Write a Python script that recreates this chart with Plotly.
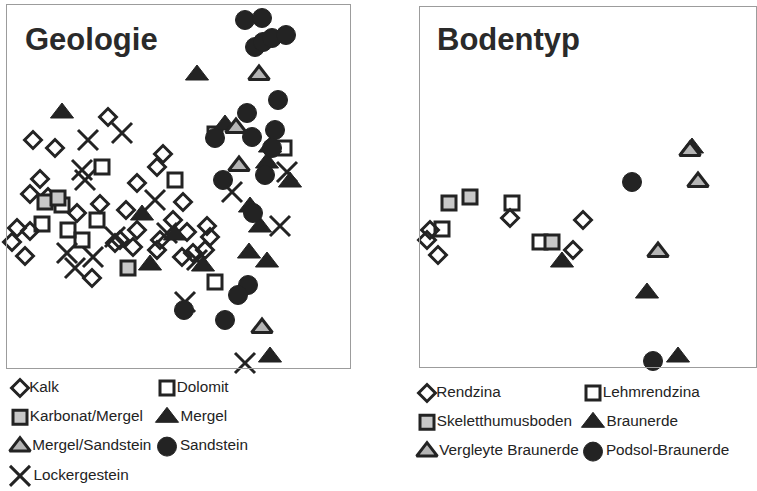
import plotly.graph_objects as go

W, H = 757, 491
INK = "#232323"
GREY = "#c8c8c8"
FONT = "Liberation Sans, Arial, sans-serif"

# ---------------- Left panel: Geologie (ordination scores, arbitrary units) -------------
geo_names = ["Kalk", "Dolomit", "Karbonat/Mergel", "Mergel",
             "Mergel/Sandstein", "Sandstein", "Lockergestein"]

kalk_x = [10.1, 2.6, 4.8, 3.3, 2.3, 15.6, 15.0, 13.0, 9.3, 11.9, 1.0, 2.3, 0.5, 1.8,
          13.0, 10.8, 8.5, 17.6, 16.6, 20.3, 19.8, 17.5, 15.0, 12.6, 4.1, 7.0, 11.3,
          15.3, 18.6, 18.0, 20.0]
kalk_y = [25.1, 22.8, 22.0, 18.9, 17.4, 21.4, 20.1, 18.5, 16.4, 15.8, 14.0, 13.7, 12.6, 11.2,
          13.8, 12.5, 9.0, 16.6, 14.8, 13.1, 11.8, 11.1, 11.8, 12.1, 17.1, 15.5, 12.8,
          12.8, 11.5, 13.6, 14.2]

dolomit_x = [9.5, 16.8, 3.5, 6.1, 7.5, 9.0, 20.8, 20.8, 27.7, 5.5]
dolomit_y = [20.1, 18.8, 14.4, 13.8, 12.8, 14.8, 8.6, 23.4, 22.0, 16.3]

karbonat_x = [12.1, 3.8, 5.1]
karbonat_y = [10.0, 16.6, 17.0]

locker_x = [8.1, 11.5, 7.5, 7.8, 14.8, 10.8, 6.0, 6.8, 8.6, 16.0, 19.0, 22.5, 27.3, 23.8,
            17.8, 28.0]
locker_y = [22.8, 23.5, 19.8, 18.8, 16.8, 13.1, 11.5, 10.0, 11.1, 13.5, 10.8, 17.6, 14.2, 0.5,
            6.6, 19.6]

mergel_x = [19.0, 5.5, 21.8, 26.3, 26.0, 28.3, 24.3, 25.3, 24.2, 26.0, 26.3, 13.5, 14.3,
            19.6, 16.8]
mergel_y = [29.3, 25.5, 24.3, 22.1, 20.5, 18.6, 16.1, 14.1, 11.5, 10.6, 1.1, 15.3, 10.3,
            10.2, 13.3]

mergsand_x = [25.2, 22.9, 23.2, 25.5]
mergsand_y = [29.3, 24.0, 20.2, 4.0]

sand_x = [23.8, 25.5, 24.8, 25.6, 26.5, 27.9, 27.1, 24.0, 20.8, 24.5, 26.8, 26.5, 25.8,
          21.6, 24.6, 24.1, 23.1, 21.8, 17.7]
sand_y = [34.8, 35.0, 32.1, 32.6, 33.0, 33.3, 26.8, 25.5, 23.0, 23.1, 23.8, 22.0, 19.3,
          18.8, 15.5, 8.3, 7.3, 4.8, 5.8]

# ---------------- Right panel: Bodentyp ----------------
soil_names = ["Rendzina", "Lehmrendzina", "Skeletthumusboden", "Braunerde",
              "Vergleyte Braunerde", "Podsol-Braunerde"]

rend_x = [1.0, 0.7, 1.8, 9.0, 16.3, 15.3]
rend_y = [13.7, 12.7, 11.2, 14.9, 14.7, 11.7]
lehm_x = [2.2, 9.2, 12.0]
lehm_y = [13.8, 16.4, 12.5]
skel_x = [2.9, 5.0, 13.2]
skel_y = [16.4, 17.0, 12.5]
braun_x = [14.2, 22.7, 25.8, 27.2]
braun_y = [10.5, 7.4, 1.0, 21.9]
vergl_x = [27.0, 27.8, 23.8]
vergl_y = [21.6, 18.5, 11.5]
podsol_x = [21.2, 23.3]
podsol_y = [18.5, 0.6]

# ---------------- marker styles ----------------
def st(symbol, size, color, lw, lc=INK):
    return dict(symbol=symbol, size=size, color=color, line=dict(width=lw, color=lc))

S_DIAMOND = st("diamond-open", 13, INK, 3)
S_OSQUARE = st("square-open", 14, INK, 3)
S_GSQUARE = st("square", 14, GREY, 3)
S_BTRI = st("triangle-up", 20, INK, 1)
S_GTRI = st("triangle-up", 18, "#b5b5b5", 3)
S_CIRCLE = st("circle", 19, INK, 1)
S_X = st("x-thin", 20, INK, 3)

geo_data = [
    ("Kalk", kalk_x, kalk_y, S_DIAMOND),
    ("Dolomit", dolomit_x, dolomit_y, S_OSQUARE),
    ("Karbonat/Mergel", karbonat_x, karbonat_y, S_GSQUARE),
    ("Lockergestein", locker_x, locker_y, S_X),
    ("Mergel", mergel_x, mergel_y, S_BTRI),
    ("Mergel/Sandstein", mergsand_x, mergsand_y, S_GTRI),
    ("Sandstein", sand_x, sand_y, S_CIRCLE),
]
geo_style = {n: s for n, _, _, s in geo_data}

soil_data = [
    ("Rendzina", rend_x, rend_y, S_DIAMOND),
    ("Lehmrendzina", lehm_x, lehm_y, S_OSQUARE),
    ("Skeletthumusboden", skel_x, skel_y, S_GSQUARE),
    ("Braunerde", braun_x, braun_y, S_BTRI),
    ("Vergleyte Braunerde", vergl_x, vergl_y, S_GTRI),
    ("Podsol-Braunerde", podsol_x, podsol_y, S_CIRCLE),
]
soil_style = {n: s for n, _, _, s in soil_data}

fig = go.Figure()

for name, xs, ys, s in geo_data:
    fig.add_trace(go.Scatter(x=xs, y=ys, mode="markers", name=name, marker=s,
                             xaxis="x", yaxis="y", cliponaxis=False, showlegend=False))
for name, xs, ys, s in soil_data:
    fig.add_trace(go.Scatter(x=xs, y=ys, mode="markers", name=name, marker=s,
                             xaxis="x2", yaxis="y2", cliponaxis=False, showlegend=False))

# ---------------- hand-drawn legends (two columns) ----------------
ROW = 29.3

def add_legend(names, styles, xa, ya, col0, col1, row0):
    for i, n in enumerate(names):
        c, r = i % 2, i // 2
        fig.add_trace(go.Scatter(
            x=[col0 if c == 0 else col1], y=[row0 + r * ROW], mode="markers+text",
            text=[n], textposition="middle right",
            textfont=dict(family=FONT, size=15.3, color=INK),
            marker=styles[n], xaxis=xa, yaxis=ya, cliponaxis=False, showlegend=False))

add_legend(geo_names, geo_style, "x3", "y3", 20, 167, 388)
add_legend(soil_names, soil_style, "x4", "y4", 427, 593, 393)

frame = dict(showline=True, mirror=True, linecolor="#9c9c9c", linewidth=1,
             showgrid=False, zeroline=False, showticklabels=False, ticks="")
hidden = dict(visible=False, showgrid=False, zeroline=False)

fig.update_layout(
    width=W, height=H, margin=dict(l=0, r=0, t=0, b=0),
    paper_bgcolor="white", plot_bgcolor="white",
    xaxis=dict(domain=[7 / W, 350 / W], range=[0, 34.3], **frame),
    yaxis=dict(domain=[1 - 368 / H, 1 - 5 / H], range=[0, 36.3], **frame),
    xaxis2=dict(domain=[420 / W, 756 / W], range=[0, 33.6], anchor="y2", **frame),
    yaxis2=dict(domain=[1 - 367 / H, 1 - 7 / H], range=[0, 36.0], anchor="x2", **frame),
    xaxis3=dict(domain=[0, 0.5], range=[0, W * 0.5], anchor="y3", **hidden),
    yaxis3=dict(domain=[0, 0.25], range=[H, H * 0.75], anchor="x3", **hidden),
    xaxis4=dict(domain=[0.5, 1], range=[W * 0.5, W], anchor="y4", **hidden),
    yaxis4=dict(domain=[0, 0.25], range=[H, H * 0.75], anchor="x4", **hidden),
    annotations=[
        dict(text="<b>Geologie</b>", xref="paper", yref="paper", x=23 / W, y=1 - 39 / H,
             xanchor="left", yanchor="middle", showarrow=False,
             font=dict(family=FONT, size=31, color="#2a2a2a")),
        dict(text="<b>Bodentyp</b>", xref="paper", yref="paper", x=435 / W, y=1 - 40 / H,
             xanchor="left", yanchor="middle", showarrow=False,
             font=dict(family=FONT, size=31, color="#2a2a2a")),
    ],
)

fig.write_html("out.html", config={"displayModeBar": False},
               post_script="document.body.style.margin='0';document.body.style.padding='0';")
